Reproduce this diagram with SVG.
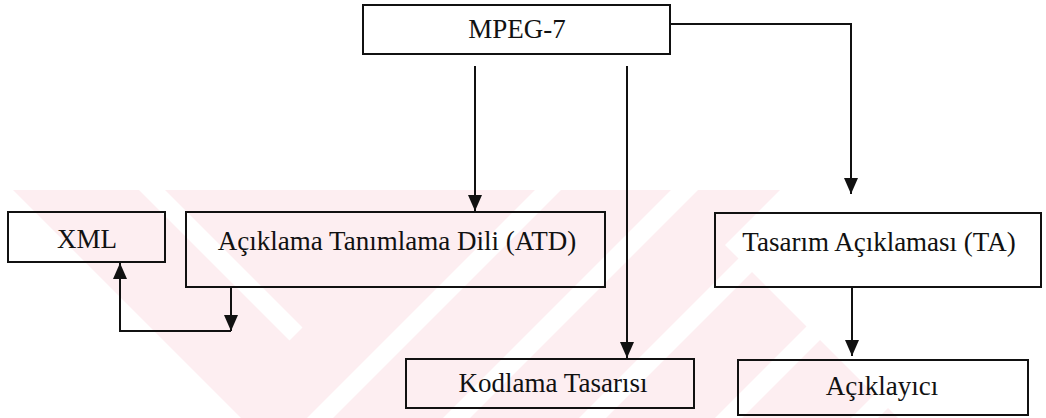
<svg xmlns="http://www.w3.org/2000/svg" width="1046" height="418" viewBox="0 0 1046 418">
  <style>
    .box { fill: none; stroke: #111; stroke-width: 2; }
    .lbl { font-family: "Liberation Serif", "Times New Roman", serif; font-size: 27px; fill: #111; text-anchor: middle; }
    .wire { fill: none; stroke: #111; stroke-width: 2; }
    .wm { fill: #fdeef1; }
    .wm-gap { fill: #ffffff; }
  </style>
  <defs>
    <marker id="arrow" markerUnits="userSpaceOnUse" markerWidth="16" markerHeight="14" refX="16" refY="7" orient="auto">
      <path d="M0,0 L16,7 L0,14 z" fill="#111"/>
    </marker>
  </defs>

  <rect width="1046" height="418" fill="#ffffff"/>

  <!-- faint striped background mark -->
  <g id="background-mark">
    <polygon class="wm" points="13,190 780,190 725,245 898,418 241,418"/>
    <polygon class="wm-gap" points="139,190 165,190 302.5,327.5 289.5,340.5"/>
    <polygon class="wm-gap" points="535,190 561,190 333,418 307,418"/>
    <polygon class="wm-gap" points="671,190 698,190 470,418 443,418"/>
    <polygon class="wm-gap" points="807,190 834,190 606,418 579,418"/>
    <polygon class="wm-gap" points="943,190 970,190 742,418 715,418"/>
    <polygon class="wm-gap" points="1079,190 1106,190 878,418 851,418"/>
  </g>

  <g id="connectors">
    <path class="wire" d="M475,66 V211" marker-end="url(#arrow)"/>
    <path class="wire" d="M627,66 V358" marker-end="url(#arrow)"/>
    <path class="wire" d="M670,24 H851 V194" marker-end="url(#arrow)"/>
    <path class="wire" d="M852,287 V356" marker-end="url(#arrow)"/>
    <path class="wire" d="M231,287 V331" marker-end="url(#arrow)"/>
    <path class="wire" d="M231,331 H120 V263" marker-end="url(#arrow)"/>
  </g>

  <g id="mpeg7">
    <rect class="box" x="363" y="5" width="307" height="49"/>
    <text class="lbl" x="517" y="38">MPEG-7</text>
  </g>

  <g id="xml">
    <rect class="box" x="8" y="212" width="157" height="50"/>
    <text class="lbl" x="87" y="248">XML</text>
  </g>

  <g id="atd">
    <rect class="box" x="186" y="212" width="419" height="75"/>
    <text class="lbl" x="397" y="250">Açıklama Tanımlama Dili (ATD)</text>
  </g>

  <g id="ta">
    <rect class="box" x="715" y="213" width="326" height="74"/>
    <text class="lbl" x="879" y="251">Tasarım Açıklaması (TA)</text>
  </g>

  <g id="kodlama">
    <rect class="box" x="406" y="359" width="288" height="49"/>
    <text class="lbl" x="553" y="392">Kodlama Tasarısı</text>
  </g>

  <g id="aciklayici">
    <rect class="box" x="738" y="360" width="290" height="55"/>
    <text class="lbl" x="882" y="395">Açıklayıcı</text>
  </g>
</svg>
